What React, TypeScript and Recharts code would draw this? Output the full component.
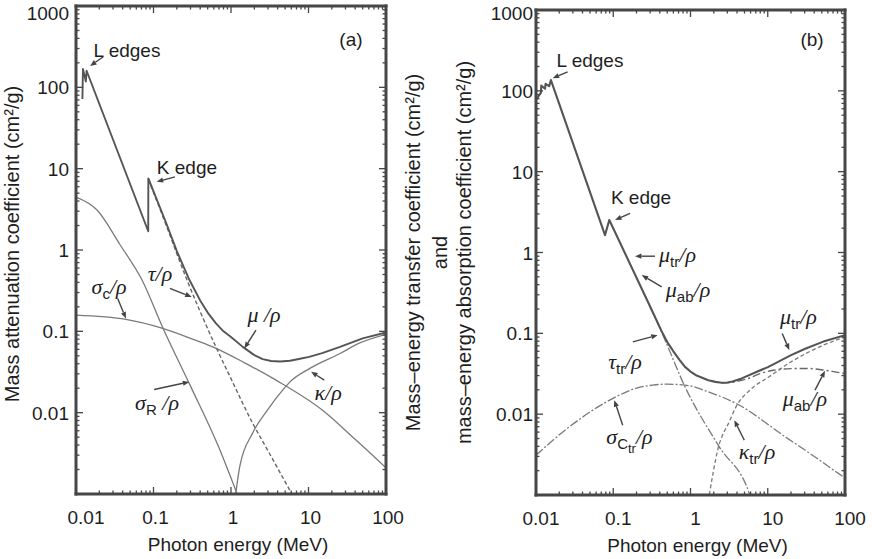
import React from 'react';
import { LineChart, Line, XAxis, YAxis, ReferenceLine, ReferenceDot, Label } from 'recharts';

const SANS = '"Liberation Sans", Arial, Helvetica, sans-serif';
const SERIF = '"Liberation Serif", "Times New Roman", serif';
const INK = '#1e1e1e';
const FRAME = '#464646';
const DARK = '#555555';
const LIGHT = '#7a7a7a';

// ---------- axes / ticks ----------
const xMajor = [0.01, 0.1, 1, 10, 100];
const xMajorLabels = ['0.01', '0.1', '1', '10', '100'];
const yMajor = [0.001, 0.01, 0.1, 1, 10, 100, 1000];
const yMajorLabels = ['', '0.01', '0.1', '1', '10', '100', '1000'];
const minorMultipliers = [2, 3, 4, 5, 6, 7, 8, 9];
const xMinor = [0.01, 0.1, 1, 10].flatMap((d) => minorMultipliers.map((m) => +(m * d).toPrecision(3)));
const yMinor = [0.001, 0.01, 0.1, 1, 10, 100].flatMap((d) => minorMultipliers.map((m) => +(m * d).toPrecision(3)));
const xTicks = [...xMajor, ...xMinor].sort((a, b) => a - b);
const yTicks = [...yMajor, ...yMinor].sort((a, b) => a - b);
const xDomain = [0.01, 100];
const yDomain = [0.001, 1000];

const xTitle = 'Photon energy (MeV)';
const yTitleA = 'Mass attenuation coefficient (cm²/g)';
const yTitleB = ['Mass–energy transfer coefficient (cm²/g)', 'and', 'mass–energy absorption coefficient (cm²/g)'];

// ---------- panel (a) series: energy (MeV), value (cm2/g) ----------
const muA = [
  { e: 0.0121, v: 72 }, { e: 0.0123, v: 168 }, { e: 0.0134, v: 118 }, { e: 0.0137, v: 160 },
  { e: 0.0855, v: 1.7 }, { e: 0.0858, v: 7.6 }, { e: 0.15, v: 2.0 }, { e: 0.2, v: 0.97 },
  { e: 0.29, v: 0.43 }, { e: 0.4, v: 0.24 }, { e: 0.5, v: 0.17 }, { e: 0.64, v: 0.125 },
  { e: 0.8, v: 0.1 }, { e: 1.0, v: 0.085 }, { e: 1.42, v: 0.0644 }, { e: 2.0, v: 0.051 },
  { e: 2.56, v: 0.0455 }, { e: 3.3, v: 0.0432 }, { e: 4.3, v: 0.0426 }, { e: 5.77, v: 0.0435 },
  { e: 7.5, v: 0.0457 }, { e: 10.2, v: 0.0486 }, { e: 15, v: 0.054 }, { e: 25.5, v: 0.0644 },
  { e: 50, v: 0.082 }, { e: 100, v: 0.097 },
];
const tauA = [
  { e: 0.0858, v: 7.4 }, { e: 0.15, v: 1.88 }, { e: 0.2, v: 0.9 }, { e: 0.27, v: 0.43 },
  { e: 0.4, v: 0.175 }, { e: 0.64, v: 0.064 }, { e: 1.0, v: 0.0262 }, { e: 1.905, v: 0.0074 },
  { e: 3, v: 0.0034 }, { e: 5.13, v: 0.00135 }, { e: 6.1, v: 0.001 },
];
const sigmaCA = [
  { e: 0.01, v: 0.158 }, { e: 0.0441, v: 0.14 }, { e: 0.1315, v: 0.1084 }, { e: 0.3, v: 0.082 },
  { e: 0.581, v: 0.0644 }, { e: 1.5, v: 0.041 }, { e: 3.81, v: 0.0251 }, { e: 15.2, v: 0.0107 },
  { e: 40, v: 0.0047 }, { e: 100, v: 0.0021 },
];
const sigmaRA = [
  { e: 0.01, v: 4.48 }, { e: 0.0187, v: 3.1 }, { e: 0.037, v: 1.16 }, { e: 0.0711, v: 0.427 },
  { e: 0.1327, v: 0.109 }, { e: 0.296, v: 0.0218 }, { e: 0.7, v: 0.0037 }, { e: 1.2, v: 0.001 },
];
const kappaA = [
  { e: 1.15, v: 0.001 }, { e: 1.3, v: 0.0022 }, { e: 1.9, v: 0.0056 }, { e: 3, v: 0.011 },
  { e: 4.64, v: 0.0189 }, { e: 5.77, v: 0.0239 }, { e: 10.4, v: 0.035 }, { e: 25.5, v: 0.0534 },
  { e: 46, v: 0.072 }, { e: 100, v: 0.092 },
];

// ---------- panel (b) series ----------
const muTrB = [
  { e: 0.01, v: 77 }, { e: 0.0116, v: 95 }, { e: 0.0117, v: 116 }, { e: 0.0131, v: 106 },
  { e: 0.0133, v: 122 }, { e: 0.0148, v: 114 }, { e: 0.0156, v: 136 }, { e: 0.0782, v: 1.64 },
  { e: 0.0889, v: 2.52 }, { e: 0.3, v: 0.215 }, { e: 0.436, v: 0.1 }, { e: 0.5, v: 0.078 },
  { e: 0.6, v: 0.06 }, { e: 0.72, v: 0.047 }, { e: 0.849, v: 0.0385 }, { e: 1.0, v: 0.0337 },
  { e: 1.2, v: 0.03 }, { e: 1.7, v: 0.0263 }, { e: 2.1, v: 0.0251 }, { e: 2.53, v: 0.0245 },
  { e: 3.0, v: 0.0246 }, { e: 3.5, v: 0.0253 }, { e: 4.6, v: 0.0277 }, { e: 7, v: 0.033 },
  { e: 10.2, v: 0.0385 }, { e: 14, v: 0.045 }, { e: 19.4, v: 0.053 }, { e: 30, v: 0.064 },
  { e: 52.4, v: 0.079 }, { e: 100, v: 0.095 },
];
const muAbB = [
  { e: 2.53, v: 0.0242 }, { e: 3.5, v: 0.0248 }, { e: 5.3, v: 0.0272 }, { e: 8, v: 0.0318 },
  { e: 11.8, v: 0.0349 }, { e: 20, v: 0.0366 }, { e: 31.9, v: 0.0368 }, { e: 52.5, v: 0.0352 },
  { e: 86, v: 0.0326 }, { e: 100, v: 0.032 },
];
const tauTrB = [
  { e: 0.3, v: 0.213 }, { e: 0.436, v: 0.097 }, { e: 0.849, v: 0.0218 }, { e: 2.36, v: 0.00394 },
  { e: 5.77, v: 0.00104 }, { e: 5.85, v: 0.001 },
];
const sigmaCtrB = [
  { e: 0.01, v: 0.00311 }, { e: 0.027, v: 0.00697 }, { e: 0.098, v: 0.0156 }, { e: 0.2, v: 0.021 },
  { e: 0.325, v: 0.0229 }, { e: 0.5, v: 0.0235 }, { e: 0.849, v: 0.0229 }, { e: 1.8, v: 0.0185 },
  { e: 3.88, v: 0.0136 }, { e: 16.9, v: 0.00524 }, { e: 40, v: 0.003 }, { e: 82, v: 0.00185 },
  { e: 100, v: 0.00163 },
];
const kappaTrB = [
  { e: 1.75, v: 0.001 }, { e: 2.25, v: 0.0036 }, { e: 3.24, v: 0.0084 }, { e: 3.88, v: 0.0123 },
  { e: 5.85, v: 0.0198 }, { e: 10.4, v: 0.029 }, { e: 19.4, v: 0.0435 }, { e: 52.5, v: 0.0714 },
  { e: 100, v: 0.09 },
];

// ---------- annotations (data coordinates) ----------
type Part = [string, 'g' | 's' | 'ss' | 't'];
type Note = { e: number; v: number; parts: Part[] };
type ArrowSpec = { from: [number, number]; to: [number, number] };

const notesA: Note[] = [
  { e: 0.0455, v: 236, parts: [['L edges', 't']] },
  { e: 0.27, v: 8.59, parts: [['K edge', 't']] },
  { e: 35.3, v: 322, parts: [['(a)', 't']] },
  { e: 0.1213, v: 0.414, parts: [['τ/ρ', 'g']] },
  { e: 0.0267, v: 0.287, parts: [['σ', 'g'], ['c', 's'], ['/ρ', 'g']] },
  { e: 2.67, v: 0.1297, parts: [['μ /ρ', 'g']] },
  { e: 0.111, v: 0.01074, parts: [['σ', 'g'], ['R', 's'], [' /ρ', 'g']] },
  { e: 17.9, v: 0.01426, parts: [['κ/ρ', 'g']] },
];
const arrowsA: ArrowSpec[] = [
  { from: [0.0225, 238], to: [0.0152, 183] },
  { from: [0.189, 7.94], to: [0.11, 6.9] },
  { from: [0.163, 0.337], to: [0.311, 0.265] },
  { from: [0.0345, 0.254], to: [0.0441, 0.144] },
  { from: [2.1, 0.1035], to: [1.486, 0.0617] },
  { from: [0.102, 0.0193], to: [0.29, 0.0239] },
  { from: [16.0, 0.0251], to: [10.8, 0.0318] },
];
const notesB: Note[] = [
  { e: 0.05, v: 197, parts: [['L edges', 't']] },
  { e: 37.4, v: 358, parts: [['(b)', 't']] },
  { e: 0.2287, v: 3.97, parts: [['K edge', 't']] },
  { e: 0.679, v: 0.76, parts: [['μ', 'g'], ['tr', 's'], ['/ρ', 'g']] },
  { e: 0.928, v: 0.2805, parts: [['μ', 'g'], ['ab', 's'], ['/ρ', 'g']] },
  { e: 25.0, v: 0.13, parts: [['μ', 'g'], ['tr', 's'], ['/ρ', 'g']] },
  { e: 0.142, v: 0.0361, parts: [['τ', 'g'], ['tr', 's'], ['/ρ', 'g']] },
  { e: 30.3, v: 0.01256, parts: [['μ', 'g'], ['ab', 's'], ['/ρ', 'g']] },
  { e: 0.162, v: 0.00425, parts: [['σ', 'g'], ['C', 's'], ['tr', 'ss'], ['/ρ', 'g']] },
  { e: 7.26, v: 0.00277, parts: [['κ', 'g'], ['tr', 's'], ['/ρ', 'g']] },
];
const arrowsB: ArrowSpec[] = [
  { from: [0.0257, 172], to: [0.01645, 143] },
  { from: [0.165, 3.05], to: [0.1055, 2.52] },
  { from: [0.347, 0.9], to: [0.191, 0.9] },
  { from: [0.424, 0.376], to: [0.2335, 0.525] },
  { from: [15.4, 0.0998], to: [19.0, 0.062] },
  { from: [0.179, 0.0785], to: [0.376, 0.095] },
  { from: [40.9, 0.0198], to: [55.1, 0.0344] },
  { from: [0.1325, 0.00731], to: [0.1032, 0.0149] },
  { from: [4.97, 0.00477], to: [3.69, 0.00843] },
];

// ---------- render helpers ----------
const isMajor = (v: number, majors: number[]) => majors.findIndex((m) => Math.abs(Math.log10(v / m)) < 1e-6);

function AxisTick(props: any) {
  const { x, y, payload, side, majors, labels, dx = 0, firstDx = 0 } = props;
  const idx = isMajor(payload.value, majors);
  const len = idx >= 0 ? 7 : 3.5;
  let tl: any = null;
  let label: any = null;
  if (side === 'bottom') {
    tl = <line x1={x} x2={x} y1={y} y2={y - len} stroke={FRAME} strokeWidth={1.3} />;
    if (idx >= 0 && labels[idx])
      label = (
        <text x={x + dx + (idx === 0 ? firstDx : 0)} y={y + 30} textAnchor="middle" fontSize={19} fontFamily={SANS} fill={INK}>
          {labels[idx]}
        </text>
      );
  } else if (side === 'top') {
    tl = <line x1={x} x2={x} y1={y} y2={y + len} stroke={FRAME} strokeWidth={1.3} />;
  } else if (side === 'left') {
    tl = <line x1={x} x2={x + len} y1={y} y2={y} stroke={FRAME} strokeWidth={1.3} />;
    if (idx >= 0 && labels[idx])
      label = (
        <text x={x - dx} y={Math.max(y, 13)} dy={7} textAnchor="end" fontSize={19} fontFamily={SANS} fill={INK}>
          {labels[idx]}
        </text>
      );
  } else {
    tl = <line x1={x} x2={x - len} y1={y} y2={y} stroke={FRAME} strokeWidth={1.3} />;
  }
  return (
    <g>
      {tl}
      {label}
    </g>
  );
}

function richShape(parts: Part[]) {
  return (p: any) => {
    const { cx, cy } = p;
    let shift = 0;
    return (
      <text x={cx} y={cy} textAnchor="middle" fill={INK}>
        {parts.map(([t, k], i) => {
          const target = k === 's' ? 5 : k === 'ss' ? 9 : 0;
          const dy = target - shift;
          shift = target;
          const style: any =
            k === 'g'
              ? { fontFamily: SERIF, fontStyle: 'italic', fontSize: 22 }
              : k === 't'
              ? { fontFamily: SANS, fontSize: 19 }
              : { fontFamily: SANS, fontSize: k === 's' ? 15 : 13 };
          return (
            <tspan key={i} dy={dy} style={style}>
              {t}
            </tspan>
          );
        })}
      </text>
    );
  };
}

function ArrowShape(p: any) {
  const { x1, y1, x2, y2 } = p;
  const ang = Math.atan2(y2 - y1, x2 - x1);
  const L = 6.5;
  const W = 2.6;
  const bx = x2 - L * Math.cos(ang);
  const by = y2 - L * Math.sin(ang);
  const px = -Math.sin(ang) * W;
  const py = Math.cos(ang) * W;
  return (
    <g>
      <line x1={x1} y1={y1} x2={bx} y2={by} stroke="#444" strokeWidth={1.4} />
      <polygon points={`${x2},${y2} ${bx + px},${by + py} ${bx - px},${by - py}`} fill="#444" />
    </g>
  );
}

const axisLine = { stroke: FRAME, strokeWidth: 3, strokeLinecap: 'square' as const };

type SeriesSpec = {
  key: string;
  data: { e: number; v: number }[];
  stroke: string;
  width: number;
  dash?: string;
  curve: 'linear' | 'monotone';
};

function renderAxes(xdx: number, xFirstDx: number, ydx: number, yTitle: (p: any) => any) {
  return [
    <XAxis
      key="xb"
      xAxisId="b"
      dataKey="e"
      type="number"
      scale="log"
      domain={xDomain}
      allowDataOverflow
      ticks={xTicks}
      interval={0}
      tickSize={0}
      tickMargin={0}
      tickLine={false}
      axisLine={axisLine}
      height={40}
      tick={<AxisTick side="bottom" majors={xMajor} labels={xMajorLabels} dx={xdx} firstDx={xFirstDx} />}
    >
      <Label
        content={(p: any) => {
          const vb = p.viewBox;
          return (
            <text x={vb.x + vb.width / 2 + 7} y={vb.y + 57} textAnchor="middle" fontSize={19} fontFamily={SANS} fill={INK}>
              {xTitle}
            </text>
          );
        }}
      />
    </XAxis>,
    <XAxis
      key="xt"
      xAxisId="t"
      orientation="top"
      dataKey="e"
      type="number"
      scale="log"
      domain={xDomain}
      allowDataOverflow
      ticks={xTicks}
      interval={0}
      tickSize={0}
      tickMargin={0}
      tickLine={false}
      axisLine={axisLine}
      height={1}
      tick={<AxisTick side="top" majors={xMajor} labels={xMajorLabels} />}
    />,
    <YAxis
      key="yl"
      yAxisId="l"
      dataKey="v"
      type="number"
      scale="log"
      domain={yDomain}
      allowDataOverflow
      ticks={yTicks}
      interval={0}
      tickSize={0}
      tickMargin={0}
      tickLine={false}
      axisLine={axisLine}
      width={64}
      tick={<AxisTick side="left" majors={yMajor} labels={yMajorLabels} dx={ydx} />}
    >
      <Label content={yTitle} />
    </YAxis>,
    <YAxis
      key="yr"
      yAxisId="r"
      orientation="right"
      dataKey="v"
      type="number"
      scale="log"
      domain={yDomain}
      allowDataOverflow
      ticks={yTicks}
      interval={0}
      tickSize={0}
      tickMargin={0}
      tickLine={false}
      axisLine={axisLine}
      width={1}
      tick={<AxisTick side="right" majors={yMajor} labels={yMajorLabels} />}
    />,
  ];
}

function renderSeries(series: SeriesSpec[]) {
  return series.map((s) => (
    <Line
      key={s.key}
      xAxisId="b"
      yAxisId="l"
      data={s.data}
      dataKey="v"
      type={s.curve}
      stroke={s.stroke}
      strokeWidth={s.width}
      strokeDasharray={s.dash}
      strokeLinejoin="round"
      dot={false}
      activeDot={false}
      isAnimationActive={false}
    />
  ));
}

function renderNotes(notes: Note[], arrows: ArrowSpec[], prefix: string) {
  return [
    ...arrows.map((a, i) => (
      <ReferenceLine
        key={`${prefix}a${i}`}
        xAxisId="b"
        yAxisId="l"
        segment={[
          { x: a.from[0], y: a.from[1] },
          { x: a.to[0], y: a.to[1] },
        ]}
        ifOverflow="visible"
        shape={ArrowShape}
      />
    )),
    ...notes.map((n, i) => (
      <ReferenceDot
        key={`${prefix}n${i}`}
        xAxisId="b"
        yAxisId="l"
        x={n.e}
        y={n.v}
        r={0}
        ifOverflow="visible"
        shape={richShape(n.parts)}
      />
    )),
  ];
}

const seriesA: SeriesSpec[] = [
  { key: 'sigmaR', data: sigmaRA, stroke: LIGHT, width: 1.3, curve: 'monotone' },
  { key: 'sigmaC', data: sigmaCA, stroke: LIGHT, width: 1.3, curve: 'monotone' },
  { key: 'kappa', data: kappaA, stroke: LIGHT, width: 1.3, curve: 'monotone' },
  { key: 'tau', data: tauA, stroke: '#666', width: 1.4, dash: '4 2.5', curve: 'monotone' },
  { key: 'mu', data: muA, stroke: DARK, width: 1.9, curve: 'linear' },
];
const seriesB: SeriesSpec[] = [
  { key: 'sigmaCtr', data: sigmaCtrB, stroke: LIGHT, width: 1.3, dash: '9 2 2 2', curve: 'monotone' },
  { key: 'tauTr', data: tauTrB, stroke: LIGHT, width: 1.3, dash: '9 2 2 2', curve: 'monotone' },
  { key: 'kappaTr', data: kappaTrB, stroke: LIGHT, width: 1.3, dash: '4 2.5', curve: 'monotone' },
  { key: 'muAb', data: muAbB, stroke: '#666', width: 1.4, dash: '8 3 2 3', curve: 'monotone' },
  { key: 'muTr', data: muTrB, stroke: DARK, width: 2.1, curve: 'linear' },
];

const yTitleContentA = (p: any) => {
  const vb = p.viewBox;
  const px = vb.x + vb.width;
  const cy = vb.y + vb.height / 2 - 6;
  return (
    <text transform={`translate(${px - 57},${cy}) rotate(-90)`} textAnchor="middle" fontSize={20} fontFamily={SANS} fill={INK}>
      {yTitleA}
    </text>
  );
};

const yTitleContentB = (p: any) => {
  const vb = p.viewBox;
  const px = vb.x + vb.width;
  const cy = vb.y + vb.height / 2;
  const offs = [-116, -89, -65];
  return (
    <g>
      {yTitleB.map((t, i) => (
        <text
          key={i}
          transform={`translate(${px + offs[i]},${cy}) rotate(-90)`}
          textAnchor="middle"
          fontSize={20}
          fontFamily={SANS}
          fill={INK}
        >
          {t}
        </text>
      ))}
    </g>
  );
};

export default function App() {
  return (
    <div style={{ position: 'absolute', left: 0, top: 0, width: 872, height: 559, background: '#fff', overflow: 'hidden' }}>
      <div style={{ position: 'absolute', left: 0, top: 0 }}>
        <LineChart width={420} height={559} margin={{ top: 5, right: 33, bottom: 25, left: 12 }}>
          {renderAxes(2, 8, 7, yTitleContentA)}
          {renderSeries(seriesA)}
          {renderNotes(notesA, arrowsA, 'A')}
        </LineChart>
      </div>
      <div style={{ position: 'absolute', left: 395, top: 0 }}>
        <LineChart width={477} height={559} margin={{ top: 9, right: 26, bottom: 24, left: 77 }}>
          {renderAxes(5, 0, 3, yTitleContentB)}
          {renderSeries(seriesB)}
          {renderNotes(notesB, arrowsB, 'B')}
        </LineChart>
      </div>
    </div>
  );
}
